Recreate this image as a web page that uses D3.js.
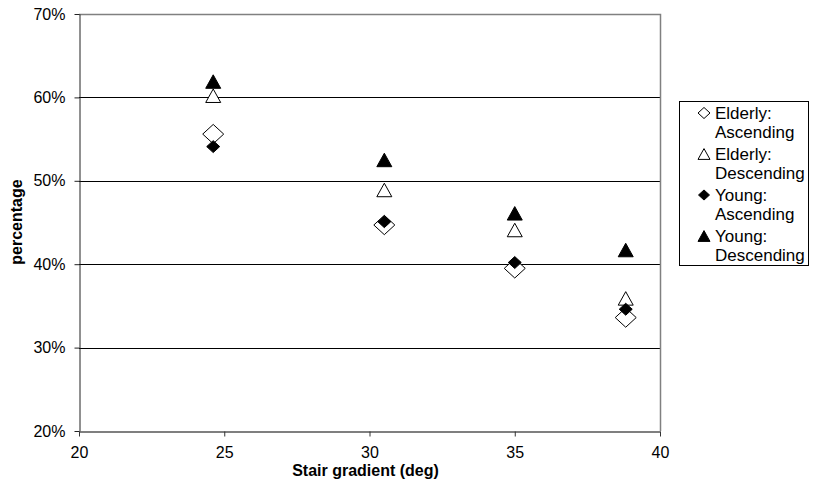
<!DOCTYPE html>
<html>
<head>
<meta charset="utf-8">
<script src="https://cdn.jsdelivr.net/npm/d3@7/dist/d3.min.js"></script>
<style>
  body { margin: 0; background: #fff; }
  svg { display: block; font-family: "Liberation Sans", Arial, sans-serif; }
</style>
</head>
<body>
<svg id="chart" width="818" height="484"></svg>
<script>
// Stair gradient (deg) for each staircase
const gradients = [24.62, 30.51, 35.0, 38.82];

// Percentage per group, in the same order as gradients
const elderlyAscending  = [0.556, 0.447, 0.395, 0.336];
const elderlyDescending = [0.602, 0.489, 0.441, 0.359];
const youngAscending    = [0.541, 0.451, 0.402, 0.346];
const youngDescending   = [0.619, 0.525, 0.461, 0.417];

const seriesNames = ["Elderly: Ascending", "Elderly: Descending", "Young: Ascending", "Young: Descending"];
const xTicks = [20, 25, 30, 35, 40];
const yTicks = [0.2, 0.3, 0.4, 0.5, 0.6, 0.7];

const series = [
  { name: seriesNames[0], values: elderlyAscending,  shape: "diamond",  filled: false, size: 21, lsize: 12 },
  { name: seriesNames[1], values: elderlyDescending, shape: "triangle", filled: false, size: 15, lsize: 12 },
  { name: seriesNames[2], values: youngAscending,    shape: "diamond",  filled: true,  size: 13, lsize: 11 },
  { name: seriesNames[3], values: youngDescending,   shape: "triangle", filled: true,  size: 15, lsize: 12 }
];

const svg = d3.select("#chart");
const plot = { left: 79, right: 660, top: 14, bottom: 431 };

const x = d3.scaleLinear().domain([20, 40]).range([plot.left, plot.right]);
const y = d3.scaleLinear().domain([0.2, 0.7]).range([plot.bottom, plot.top]);

// Horizontal gridlines
svg.append("g")
  .selectAll("line")
  .data(yTicks.filter(t => t > 0.2 && t < 0.7))
  .join("line")
  .attr("x1", plot.left).attr("x2", plot.right)
  .attr("y1", d => Math.round(y(d)) + 0.5).attr("y2", d => Math.round(y(d)) + 0.5)
  .attr("stroke", "#000").attr("stroke-width", 1);

// Plot frame: grey top and right edges
svg.append("path")
  .attr("d", `M${plot.left},${plot.top + 0.5}H${plot.right + 0.5}V${plot.bottom}`)
  .attr("fill", "none").attr("stroke", "#808080").attr("stroke-width", 1.5);

// Y axis
const yAxis = svg.append("g")
  .attr("transform", `translate(${plot.left + 0.5},0)`)
  .call(d3.axisLeft(y).tickValues(yTicks).tickFormat(d3.format(".0%")).tickSizeInner(5).tickSizeOuter(0).tickPadding(9));
yAxis.select(".domain").attr("stroke", "#222");
yAxis.selectAll(".tick line").attr("stroke", "#222");
yAxis.selectAll("text").attr("font-size", 16).attr("fill", "#000")
  .attr("font-family", "Liberation Sans, Arial, sans-serif");

// X axis
const xAxis = svg.append("g")
  .attr("transform", `translate(0,${plot.bottom + 0.5})`)
  .call(d3.axisBottom(x).tickValues(xTicks).tickFormat(d3.format("d")).tickSizeInner(5).tickSizeOuter(0).tickPadding(10));
xAxis.select(".domain").attr("stroke", "#555").attr("stroke-width", 1.5);
xAxis.selectAll(".tick line").attr("stroke", "#333");
xAxis.selectAll("text").attr("font-size", 16).attr("fill", "#000")
  .attr("font-family", "Liberation Sans, Arial, sans-serif");

// Axis titles
svg.append("text")
  .attr("x", (plot.left + plot.right) / 2 - 4).attr("y", 476)
  .attr("text-anchor", "middle").attr("font-size", 16).attr("font-weight", "bold")
  .text("Stair gradient (deg)");
svg.append("text")
  .attr("transform", `translate(22,222) rotate(-90)`)
  .attr("text-anchor", "middle").attr("font-size", 16).attr("font-weight", "bold")
  .text("percentage");

// Marker path centred on the origin
function markerPath(shape, size) {
  const h = size / 2;
  if (shape === "diamond") {
    const v = h * 0.92;
    return `M0,${-v}L${h},0L0,${v}L${-h},0Z`;
  }
  const t = size * 0.9;
  return `M0,${-t / 2}L${h},${t / 2}L${-h},${t / 2}Z`;
}

// Data points
series.forEach(s => {
  svg.append("g")
    .selectAll("path")
    .data(s.values.map((v, i) => ({ x: gradients[i], y: v })))
    .join("path")
    .attr("transform", d => `translate(${x(d.x)},${y(d.y)})`)
    .attr("d", markerPath(s.shape, s.size))
    .attr("fill", s.filled ? "#000" : "#fff")
    .attr("stroke", "#000").attr("stroke-width", 1);
});

// Legend
const legend = svg.append("g");
legend.append("rect")
  .attr("x", 679.5).attr("y", 101.5).attr("width", 129).attr("height", 164)
  .attr("fill", "#fff").attr("stroke", "#000").attr("stroke-width", 1);

const entry = legend.selectAll("g.entry")
  .data(series)
  .join("g")
  .attr("class", "entry")
  .attr("transform", (d, i) => `translate(0,${119 + i * 41})`);

entry.append("path")
  .attr("transform", "translate(704,-6)")
  .attr("d", d => markerPath(d.shape, d.lsize))
  .attr("fill", d => d.filled ? "#000" : "#fff")
  .attr("stroke", "#000").attr("stroke-width", 1);

entry.each(function (d) {
  const parts = d.name.split(" ");
  const t = d3.select(this).append("text")
    .attr("x", 715).attr("y", 0).attr("font-size", 17).attr("fill", "#000");
  t.append("tspan").attr("x", 715).attr("dy", 0).text(parts[0]);
  t.append("tspan").attr("x", 715).attr("dy", 18.5).text(parts[1]);
});
</script>
</body>
</html>
